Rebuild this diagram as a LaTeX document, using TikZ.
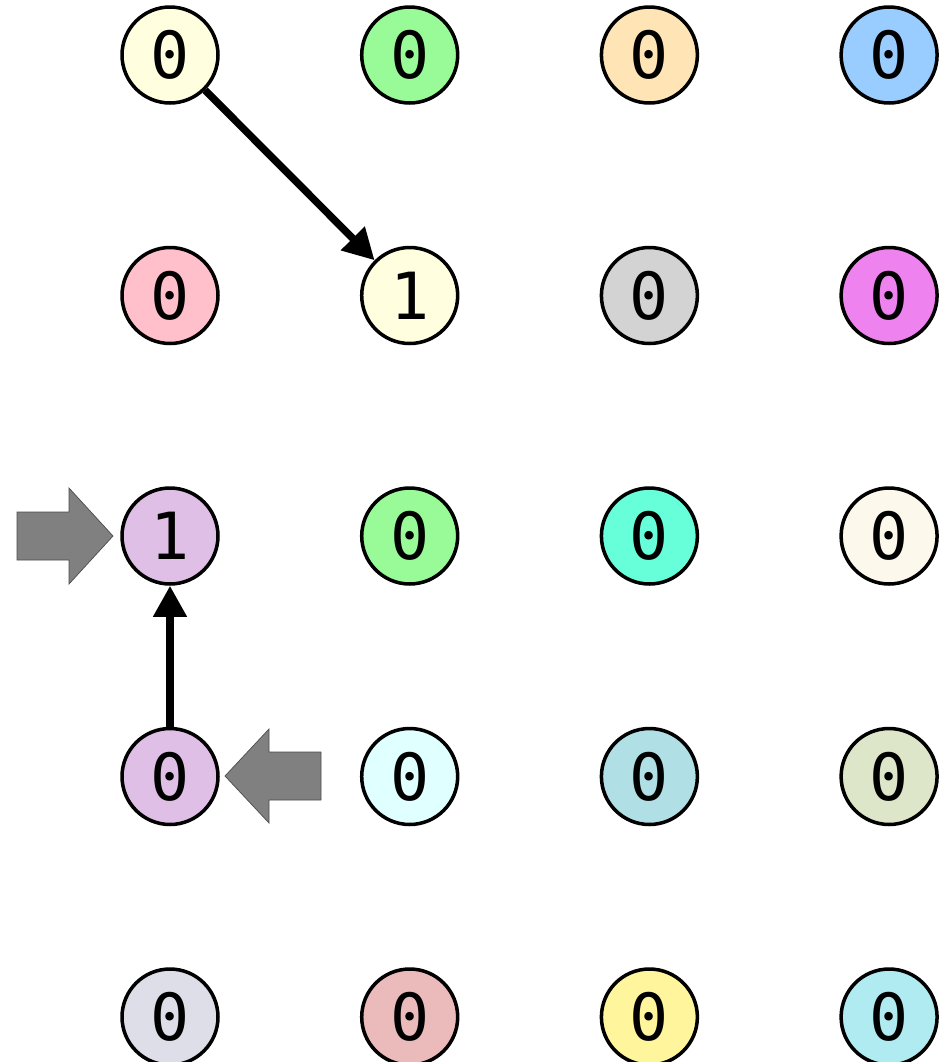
\documentclass[tikz,border=0pt]{standalone}
\usepackage{fontspec}
\newfontfamily\cellfont{DejaVu Sans Mono}
\usepackage{xcolor}
\definecolor{cYellow}{HTML}{FFFFE0}
\definecolor{cGreen}{HTML}{98FB98}
\definecolor{cPeach}{HTML}{FFE4B5}
\definecolor{cBlue}{HTML}{99CCFF}
\definecolor{cPink}{HTML}{FFC0CB}
\definecolor{cGray}{HTML}{D3D3D3}
\definecolor{cViolet}{HTML}{EE82EE}
\definecolor{cPlum}{HTML}{E0BFE7}
\definecolor{cAqua}{HTML}{66FFD9}
\definecolor{cFloral}{HTML}{FDF8EC}
\definecolor{cCyan}{HTML}{E0FFFF}
\definecolor{cPowder}{HTML}{B0E0E6}
\definecolor{cSage}{HTML}{DDE6C8}
\definecolor{cLavender}{HTML}{DEDEE8}
\definecolor{cRose}{HTML}{EBBBBB}
\definecolor{cLemon}{HTML}{FFF59D}
\definecolor{cTurq}{HTML}{B0EBF2}
\usetikzlibrary{arrows.meta, positioning}
\tikzset{
	cell/.style={draw, circle, line width=2pt, minimum size=1.92cm, inner sep=0pt, font=\cellfont\fontsize{37}{37}\selectfont, fill=#1},
	linkarr/.style={-{Triangle[length=0.62cm, width=0.64cm]}, line width=4.2pt},
	pointer/.style={fill=gray, draw=black!70, line width=0.4pt},
}
\begin{document}
\begin{tikzpicture}[x=0.02cm, y=-0.02cm]
		\useasboundingbox (0,0) rectangle (951,1062);

		% Grid of cells
		\foreach \r/\c/\col/\val in {
			0/0/cYellow/0, 0/1/cGreen/0, 0/2/cPeach/0, 0/3/cBlue/0,
			1/0/cPink/0, 1/1/cYellow/1, 1/2/cGray/0, 1/3/cViolet/0,
			2/0/cPlum/1, 2/1/cGreen/0, 2/2/cAqua/0, 2/3/cFloral/0,
			3/0/cPlum/0, 3/1/cCyan/0, 3/2/cPowder/0, 3/3/cSage/0,
			4/0/cLavender/0, 4/1/cRose/0, 4/2/cLemon/0, 4/3/cTurq/0}
			\node[cell=\col] (n\r\c) at (170+239.7*\c, 55+240.5*\r) {\val};

		% Links
		\draw[linkarr] (n00) -- (n11);
		\draw[linkarr] (n30) -- (n20);

		% Pointers
		\draw[pointer] (17,512) -- (69,512) -- (69,488) -- (113,536) -- (69,584) -- (69,560) -- (17,560) -- cycle;
		\draw[pointer] (321,752) -- (269,752) -- (269,729) -- (225,776) -- (269,823) -- (269,800) -- (321,800) -- cycle;
	\end{tikzpicture}
\end{document}
